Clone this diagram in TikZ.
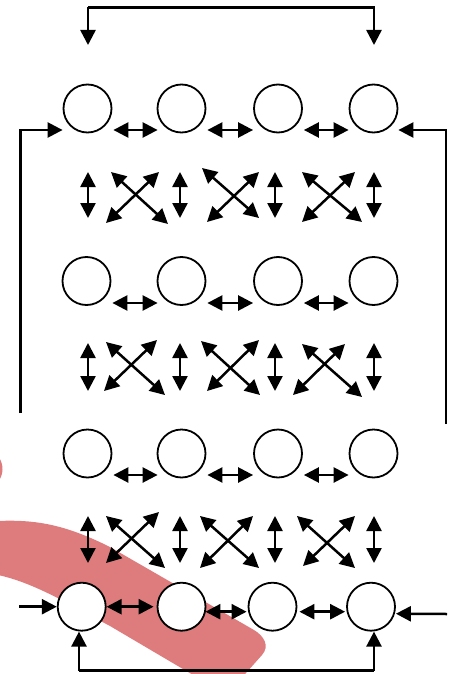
\documentclass[tikz,border=0pt]{standalone}
\usetikzlibrary{arrows.meta}
\definecolor{brushred}{RGB}{222,123,124}
\begin{document}
\begin{tikzpicture}[x=1pt,y=-1pt,
  cell/.style={circle,draw,line width=1.8pt,fill=white,minimum size=48pt,inner sep=0pt},
  ln/.style={line width=2.5pt},
  sgl/.style={ln,-{Triangle[length=15pt,width=15pt]}},
  dbl/.style={ln,{Triangle[length=15pt,width=15pt]}-{Triangle[length=15pt,width=15pt]}}]
\useasboundingbox (0,0) rectangle (449,674);
% brush strokes
\fill[brushred] (-40,469) ellipse [x radius=42.5, y radius=29];
\fill[brushred] (-30,521) -- (-2,521) .. controls (40,519) and (70,527) .. (110,547)
  -- (254,630) .. controls (264,636) and (270,646) .. (262,655)
  -- (238,682) -- (205,682) -- (110,626)
  .. controls (70,605) and (35,583) .. (-2,575) -- (-30,575) -- cycle;
% circles
\foreach \r/\y/\a/\b/\c/\d in {1/108.5/87.5/181.5/278/373.5, 2/281/86.5/181.5/278/373.5, 3/453.5/87.5/181.5/278/373.5, 4/606.7/81.7/181.5/272.5/371}{
  \node[cell] (c\r1) at (\a,\y) {};
  \node[cell] (c\r2) at (\b,\y) {};
  \node[cell] (c\r3) at (\c,\y) {};
  \node[cell] (c\r4) at (\d,\y) {};
}
% horizontal arrows rows 1-3
\foreach \r/\s in {1/21.5,2/22,3/21.5}{
  \draw[dbl] ([yshift=-\s pt,xshift=1pt]c\r1.east) -- ([yshift=-\s pt,xshift=1pt]c\r2.west);
  \draw[dbl] ([yshift=-\s pt,xshift=1pt]c\r2.east) -- ([yshift=-\s pt]c\r3.west);
  \draw[dbl] ([yshift=-\s pt,xshift=1pt]c\r3.east) -- ([yshift=-\s pt]c\r4.west);
}
% row 4
\draw[dbl] (c41.east) -- ([xshift=-3pt]c42.west);
\draw[dbl] ([yshift=-5pt,xshift=-1pt]c42.east) -- ([yshift=-5pt,xshift=-1pt]c43.west);
\draw[dbl] ([yshift=-5pt,xshift=2pt]c43.east) -- ([yshift=-5pt,xshift=-1pt]c44.west);
% vertical arrows
\foreach \ya/\yb in {172/218, 343/391, 516/563}{
  \foreach \x in {88,180,275,374}{
    \draw[dbl] (\x,\ya) -- (\x,\yb);
  }
}
% crossing arrows
\foreach \pa/\pb in {
  {111,172}/{168,224}, {159,172}/{106,223},
  {202,168}/{259,218}, {259,172}/{207,222},
  {302,172}/{362,222}, {355,172}/{302,222},
  {106,342}/{165,395}, {157,340}/{104,391},
  {201,341}/{260,395}, {259,340}/{207,391},
  {302,344}/{362,397}, {345,344}/{293,395},
  {106,516}/{165,568}, {159,512}/{106,563},
  {200,516}/{259,568}, {253,516}/{200,568},
  {297,516}/{355,568}, {355,516}/{303,566}}{
  \draw[dbl] (\pa) -- (\pb);
}
% top feedback
\coordinate (ta) at (88,45);
\coordinate (tb) at (374,45);
\draw[sgl] (ta |- 0,7.3) -- (tb |- 0,7.3) -- (tb);
\draw[sgl] (88,7.3) -- (ta);
% left and right feedback to row 1
\coordinate (la) at (20.7,413);
\coordinate (ra) at (446,424);
\draw[sgl] (la) -- (20.7,130) -- ([yshift=-21.5pt]c11.west);
\draw[sgl] (ra) -- (446,130) -- ([yshift=-21.5pt]c14.east);
% row 4 inputs
\coordinate (li) at (19,606.7);
\coordinate (ri) at (447,614);
\draw[sgl] (li) -- (c41.west);
\draw[sgl] (ri) -- ([yshift=-7pt]c44.east);
% bottom feedback
\coordinate (b1) at (79,670.7);
\coordinate (b2) at (374,670.7);
\draw[ln] (b1) -- (b2);
\draw[sgl] (b1) -- (b1 |- c41.south);
\draw[sgl] (b2) -- (b2 |- c44.south);
\end{tikzpicture}
\end{document}
